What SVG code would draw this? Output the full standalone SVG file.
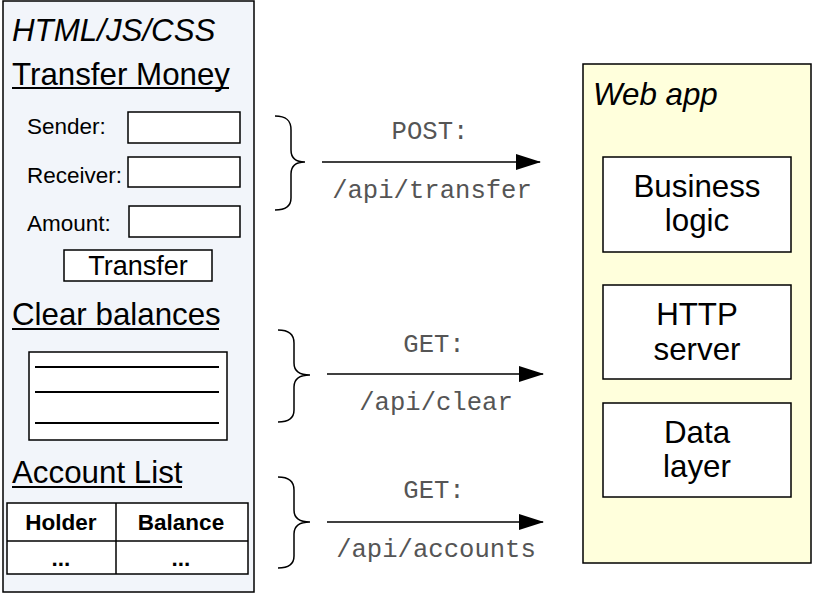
<svg xmlns="http://www.w3.org/2000/svg" width="831" height="594" viewBox="0 0 831 594">
<style>
.sans{font-family:"Liberation Sans",Arial,sans-serif;fill:#000}
.big{font-size:31.3px}
.lbl{font-size:22.5px}
.mono{font-family:"Liberation Mono","Courier New",monospace;fill:#555;font-size:25.6px}
.box{fill:#fff;stroke:#000;stroke-width:1.5}
.ul{stroke:#000;stroke-width:2}
.brace{fill:none;stroke:#000;stroke-width:1.5}
.arrow{stroke:#000;stroke-width:1.5;marker-end:url(#ah)}
</style>
<defs>
<marker id="ah" markerWidth="26" markerHeight="18" refX="24" refY="8" orient="auto" markerUnits="userSpaceOnUse">
<path d="M0,0 L25,8 L0,16 Z" fill="#000"/>
</marker>
</defs>
<rect width="831" height="594" fill="#fff"/>
<g id="client">
<rect x="3" y="1" width="251" height="591" fill="#f2f5fa" stroke="#000" stroke-width="1.5"/>
<text class="sans big" x="12" y="41" font-style="italic">HTML/JS/CSS</text>
<text class="sans big" x="12" y="85">Transfer Money</text>
<line class="ul" x1="12" y1="88" x2="229" y2="88"/>
<text class="sans lbl" x="27" y="134">Sender:</text>
<rect class="box" x="128" y="112" width="112" height="31"/>
<text class="sans lbl" x="27" y="183">Receiver:</text>
<rect class="box" x="128" y="157" width="112" height="30"/>
<text class="sans lbl" x="27" y="231">Amount:</text>
<rect class="box" x="129" y="206" width="111" height="31"/>
<rect class="box" x="64" y="250" width="148" height="31"/>
<text class="sans" x="138" y="275" font-size="27" text-anchor="middle">Transfer</text>
<text class="sans big" x="12" y="325">Clear balances</text>
<line class="ul" x1="12" y1="329" x2="219" y2="329"/>
<rect class="box" x="29" y="352" width="198" height="88"/>
<line x1="35" y1="367" x2="219" y2="367" stroke="#000" stroke-width="2"/>
<line x1="35" y1="392" x2="219" y2="392" stroke="#000" stroke-width="2"/>
<line x1="35" y1="423" x2="219" y2="423" stroke="#000" stroke-width="2"/>
<text class="sans big" x="12" y="483">Account List</text>
<line class="ul" x1="12" y1="487" x2="182" y2="487"/>
<rect class="box" x="7" y="503" width="241" height="71"/>
<line x1="7" y1="541" x2="248" y2="541" stroke="#000" stroke-width="1.5"/>
<line x1="116" y1="503" x2="116" y2="574" stroke="#000" stroke-width="1.5"/>
<text class="sans lbl" x="61" y="530" font-weight="bold" text-anchor="middle">Holder</text>
<text class="sans lbl" x="181" y="530" font-weight="bold" text-anchor="middle">Balance</text>
<text class="sans lbl" x="61" y="566" font-weight="bold" text-anchor="middle">...</text>
<text class="sans lbl" x="181" y="566" font-weight="bold" text-anchor="middle">...</text>
</g>
<g id="webapp">
<rect x="583" y="64" width="228" height="499" fill="#ffffdc" stroke="#000" stroke-width="1.5"/>
<text class="sans big" x="593" y="105" font-style="italic">Web app</text>
</g>
<g id="business">
<rect class="box" x="603" y="157" width="188" height="95"/>
<text class="sans big" x="697" y="197" text-anchor="middle">Business</text>
<text class="sans big" x="697" y="231" text-anchor="middle">logic</text>
</g>
<g id="http">
<rect class="box" x="603" y="285" width="188" height="94"/>
<text class="sans big" x="697" y="325" text-anchor="middle">HTTP</text>
<text class="sans big" x="697" y="360" text-anchor="middle">server</text>
</g>
<g id="data">
<rect class="box" x="603" y="403" width="188" height="94"/>
<text class="sans big" x="697" y="443" text-anchor="middle">Data</text>
<text class="sans big" x="697" y="477" text-anchor="middle">layer</text>
</g>
<g id="connectors">
<path class="brace" d="M275,116 C286,116 291,120 291,130 L291,150 C291,158 296,162 305,162 C296,162 291,166 291,174 L291,198 C291,206 286,210 275,210"/>
<line class="arrow" x1="322" y1="162" x2="540" y2="162"/>
<text class="mono" x="430" y="139" text-anchor="middle">POST:</text>
<text class="mono" x="432" y="198" text-anchor="middle">/api/transfer</text>

<path class="brace" d="M278,330 C289,330 294,334 294,343 L294,363 C294,371 299,375 310,375 C299,375 294,379 294,387 L294,410 C294,418 289,422 278,422"/>
<line class="arrow" x1="327" y1="374" x2="543" y2="374"/>
<text class="mono" x="434" y="352" text-anchor="middle">GET:</text>
<text class="mono" x="436" y="410" text-anchor="middle">/api/clear</text>

<path class="brace" d="M278,477 C289,477 294,481 294,490 L294,510 C294,518 299,522 310,522 C299,522 294,526 294,534 L294,556 C294,564 289,568 278,568"/>
<line class="arrow" x1="327" y1="522" x2="543" y2="522"/>
<text class="mono" x="434" y="498" text-anchor="middle">GET:</text>
<text class="mono" x="436" y="557" text-anchor="middle">/api/accounts</text>
</g>
</svg>
